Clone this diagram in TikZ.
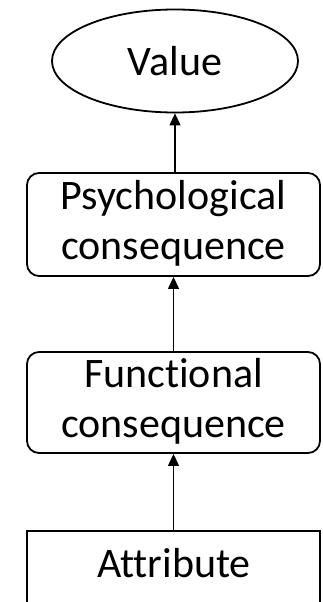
\documentclass[tikz,border=0pt]{standalone}
\usepackage{fontspec}
\setmainfont{Carlito}[Ligatures=NoCommon]
\usetikzlibrary{shapes.geometric,arrows.meta}
\begin{document}
\begin{tikzpicture}[x=1pt,y=-1pt,
  every node/.style={font=\fontsize{42}{50}\selectfont},
  rbox/.style={draw, line width=1.8pt, rounded corners=12pt, minimum width=293pt, inner sep=0pt, align=center},
  sbox/.style={draw, line width=1.8pt, minimum width=293pt, minimum height=120pt, inner sep=0pt},
  conn/.style={line width=1.1pt, -{Triangle[width=11pt,length=12pt]}}]
\useasboundingbox (0,0) rectangle (322,602);
\clip (0,0) rectangle (322,602);
\node[draw, ellipse, line width=1.8pt, minimum width=246pt, minimum height=103pt, inner sep=0pt] (val) at (175,61) {Value};
\node[rbox, minimum height=103pt] (psy) at (173.5,224.5) {\raisebox{-3pt}{\begin{tabular}{@{}c@{}}Psychological\\consequence\end{tabular}}};
\node[rbox, minimum height=101pt] (fun) at (173.5,402.5) {\raisebox{-3pt}{\begin{tabular}{@{}c@{}}Functional\\consequence\end{tabular}}};
\node[sbox, anchor=north] (att) at (173.5,530) {};
\node[anchor=base] (atttext) at (174,577) {Attribute};
\draw[conn] (psy.north -| val.south) -- (val.south);
\draw[conn] (fun.north) -- (psy.south);
\draw[conn] (att.north) -- (fun.south);
\end{tikzpicture}
\end{document}
